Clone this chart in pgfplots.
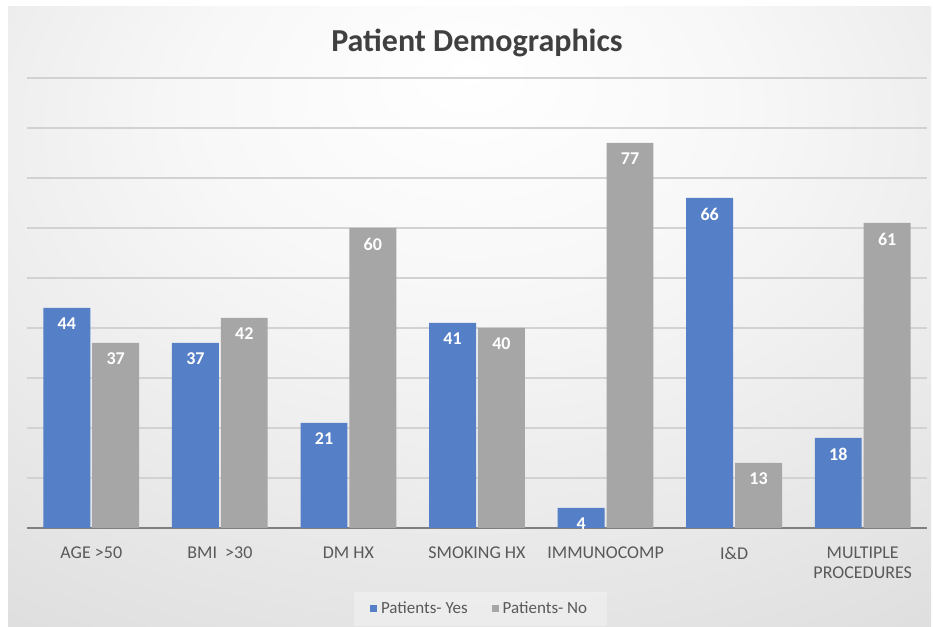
\documentclass[border=0pt]{standalone}
\usepackage{pgfplots}
\pgfplotsset{compat=1.18}
\usepackage{fontspec}
\setmainfont{Carlito}
\definecolor{barblue}{HTML}{5580C8}
\definecolor{bargray}{HTML}{A6A6A6}
\definecolor{txtgray}{HTML}{595959}
\definecolor{gridc}{HTML}{D2D2D2}
\definecolor{axisc}{HTML}{7F7F7F}
\pgfdeclareradialshading{bgshade}{\pgfpoint{0bp}{20bp}}{%
  color(0bp)=(white);
  color(15bp)=(black!3);
  color(30bp)=(black!8);
  color(45bp)=(black!13);
  color(60bp)=(black!18);
  color(100bp)=(black!22)}
\begin{document}
\begin{tikzpicture}[x=1pt,y=1pt]
\fill[white] (0,0) rectangle (466.5,313.5);
\shade[shading=bgshade] (4,0) rectangle (465.5,310);
\node[font=\fontsize{16}{19}\selectfont\bfseries, text=black!75] at (238.5,292) {Patient Demographics};
\begin{axis}[
  scale only axis,
  width=450pt, height=225pt,
  at={(13.5pt,49.5pt)}, anchor=south west,
  xmin=-0.5, xmax=6.5,
  ymin=0, ymax=90,
  xtick={0,1,2,3,4,5,6},
  xticklabels={AGE >50, BMI \ >30, DM HX, SMOKING HX, IMMUNOCOMP, I\&D, {MULTIPLE\\PROCEDURES}},
  xticklabel style={align=center, font=\fontsize{9}{10}\selectfont, text=txtgray, yshift=-6pt},
  ytick={10,20,...,90},
  yticklabels={},
  major tick length=0pt,
  ymajorgrids,
  grid style={gridc, line width=0.6pt},
  axis x line*=bottom,
  axis y line*=left,
  x axis line style={axisc, line width=1pt},
  y axis line style={draw=none},
  ybar,
  bar width=0.365,
  /pgf/number format/assume math mode=true,
  nodes near coords,
  every node near coord/.append style={font=\fontsize{9}{10}\selectfont\bfseries, text=white, anchor=center, yshift=-8pt},
  legend style={at={(0.504,-0.18)}, anchor=center, legend columns=2, draw=none, fill=white, fill opacity=0.3, text opacity=1, font=\fontsize{8.5}{10}\selectfont, text=txtgray, inner xsep=8pt, inner ysep=3pt},
  legend image code/.code={\fill[#1, fill opacity=1] (0pt,-1.75pt) rectangle (3.5pt,1.75pt);},
  /tikz/every even column/.append style={column sep=10pt},
]
\addplot[fill=barblue, draw=none, bar shift=-0.19] coordinates {(0,44) (1,37) (2,21) (3,41) (4,4) (5,66) (6,18)};
\addplot[fill=bargray, draw=none, bar shift=0.19] coordinates {(0,37) (1,42) (2,60) (3,40) (4,77) (5,13) (6,61)};
\legend{Patients- Yes, Patients- No}
\end{axis}
\end{tikzpicture}
\end{document}
